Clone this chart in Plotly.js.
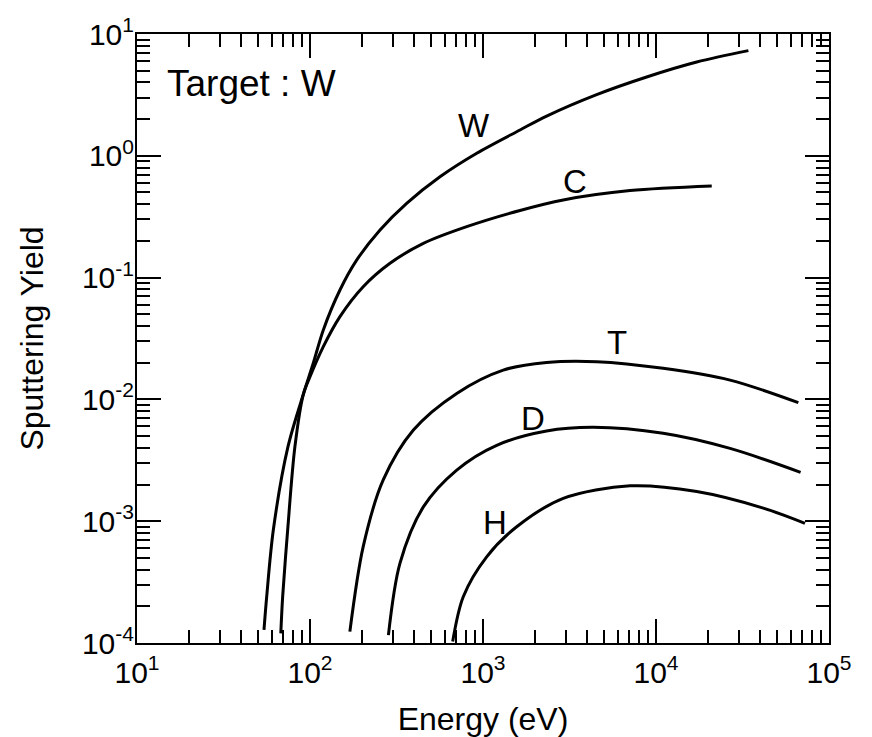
<!DOCTYPE html>
<html>
<head>
<meta charset="utf-8">
<script src="https://cdn.plot.ly/plotly-3.0.1.min.js"></script>
<style>
  html, body { margin: 0; padding: 0; background: #fff; }
  #chart { width: 872px; height: 737px; }
</style>
</head>
<body>
<div id="chart"></div>
<script>
// Energy (eV) and sputtering yield for each projectile on a W target
const W_E = [54.2, 56.2, 61.4, 74.6, 91.6, 104.4, 119.4, 149, 186, 254, 362, 564, 920, 1637, 2333, 4540, 8830, 17200, 34200];
const W_Y = [1.28e-4, 2.4e-4, 8.5e-4, 4.09e-3, 0.01107, 0.0198, 0.0372, 0.0791, 0.139, 0.246, 0.407, 0.673, 1.05, 1.63, 2.12, 3.18, 4.44, 5.89, 7.30];

const C_E = [67.8, 69.5, 74.3, 81.8, 91.6, 100, 119.4, 149, 203, 290, 452, 805, 1637, 2910, 7080, 21000];
const C_Y = [1.2e-4, 2.4e-4, 8.5e-4, 4.09e-3, 0.01107, 0.01535, 0.0271, 0.0478, 0.0841, 0.131, 0.191, 0.262, 0.356, 0.434, 0.518, 0.565];

const T_E = [170, 203, 265, 396, 705, 1309, 2330, 4540, 11000, 26800, 66500];
const T_Y = [1.24e-4, 6.18e-4, 2.18e-3, 5.6e-3, 0.0112, 0.0174, 0.0201, 0.0204, 0.018, 0.0144, 0.0094];

const D_E = [284, 331, 452, 705, 1200, 2330, 4340, 11000, 26800, 68500];
const D_Y = [1.16e-4, 4.5e-4, 1.31e-3, 2.63e-3, 4.2e-3, 5.5e-3, 5.9e-3, 5.27e-3, 3.96e-3, 2.52e-3];

const H_E = [668, 769, 1050, 1566, 2910, 7080, 17200, 41700, 72600];
const H_Y = [1.03e-4, 2.4e-4, 5.1e-4, 9.0e-4, 1.54e-3, 1.95e-3, 1.75e-3, 1.28e-3, 9.6e-4];

const seriesNames = ['W', 'C', 'T', 'D', 'H'];

// tick labels
const xTickVals = [10, 100, 1000, 10000, 100000];
const xTickText = ['10<sup>1</sup>', '10<sup>2</sup>', '10<sup>3</sup>', '10<sup>4</sup>', '10<sup>5</sup>'];
const yTickVals = [1e-4, 1e-3, 1e-2, 1e-1, 1, 10];
const yTickText = ['10<sup>-4</sup>', '10<sup>-3</sup>', '10<sup>-2</sup>', '10<sup>-1</sup>', '10<sup>0</sup>', '10<sup>1</sup>'];

function minorVals(lo, hi) {
  const out = [];
  for (let e = lo; e < hi; e++) {
    for (let m = 2; m <= 9; m++) out.push(m * Math.pow(10, e));
  }
  return out;
}

const FONT = 'Liberation Sans, Arial, Helvetica, sans-serif';
const lineStyle = { color: '#000', width: 3, shape: 'spline', smoothing: 0.9 };
const allE = [W_E, C_E, T_E, D_E, H_E];
const allY = [W_Y, C_Y, T_Y, D_Y, H_Y];

const traces = seriesNames.map((n, i) => ({
  x: allE[i], y: allY[i], name: n, type: 'scatter', mode: 'lines',
  line: lineStyle, showlegend: false, hoverinfo: 'x+y+name'
}));

function lab(text, x, y, size) {
  return { text: text, xref: 'paper', yref: 'paper', x: x, y: y,
           xanchor: 'center', yanchor: 'middle', showarrow: false,
           font: { family: FONT, size: size || 33, color: '#000' } };
}

const annotations = [
  { text: 'Target : W', xref: 'paper', yref: 'paper', x: 0.041, y: 0.919,
    xanchor: 'left', yanchor: 'middle', showarrow: false,
    font: { family: FONT, size: 37, color: '#000' } },
  lab('W', 0.487, 0.850),
  lab('C', 0.633, 0.758),
  lab('T', 0.694, 0.494),
  lab('D', 0.572, 0.369),
  lab('H', 0.517, 0.198)
];

const axisCommon = {
  type: 'log', showgrid: false, zeroline: false,
  showline: true, linecolor: '#000', linewidth: 2, mirror: 'ticks',
  ticks: 'inside', ticklen: 24, tickwidth: 2, tickcolor: '#000',
  tickmode: 'array',
  tickfont: { family: FONT, size: 30, color: '#000' },
};

const layout = {
  width: 872, height: 737,
  margin: { l: 137, r: 43, t: 34, b: 94 },
  paper_bgcolor: '#fff', plot_bgcolor: '#fff',
  xaxis: Object.assign({}, axisCommon, {
    range: [1, 5], tickvals: xTickVals, ticktext: xTickText,
    ticklabelstandoff: 2,
    minor: { tickmode: 'array', tickvals: minorVals(1, 5), ticks: 'inside', ticklen: 13, tickwidth: 2, tickcolor: '#000', showgrid: false },
    title: { text: 'Energy (eV)', font: { family: FONT, size: 32, color: '#000' }, standoff: 27 }
  }),
  yaxis: Object.assign({}, axisCommon, {
    range: [-4, 1], tickvals: yTickVals, ticktext: yTickText,
    ticklabelstandoff: -5,
    minor: { tickmode: 'array', tickvals: minorVals(-4, 1), ticks: 'inside', ticklen: 13, tickwidth: 2, tickcolor: '#000', showgrid: false },
    title: { text: 'Sputtering Yield', font: { family: FONT, size: 32, color: '#000' }, standoff: 29 }
  }),
  annotations: annotations,
  showlegend: false
};

Plotly.newPlot('chart', traces, layout, { displayModeBar: false, staticPlot: true });
</script>
</body>
</html>
